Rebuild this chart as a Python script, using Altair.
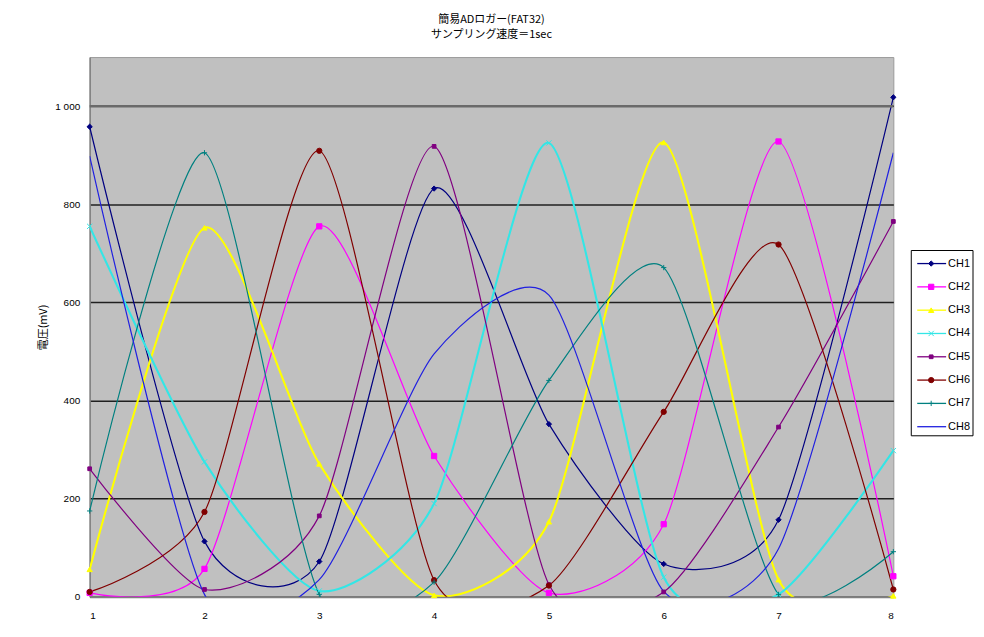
import altair as alt
import pandas as pd

# ---- data ----
x_vals = [1, 2, 3, 4, 5, 6, 7, 8]
channels = ["CH1", "CH2", "CH3", "CH4", "CH5", "CH6", "CH7", "CH8"]
ch1 = [958, 113, 72, 832, 352, 67, 157, 1018]
ch2 = [8, 57, 755, 287, 8, 148, 928, 42]
ch3 = [56, 752, 271, 3, 153, 926, 35, 2]
ch4 = [755, 275, 12, 190, 925, 40, 5, 298]
ch5 = [261, 15, 165, 918, 25, 10, 346, 765]
ch6 = [10, 173, 909, 34, 23, 377, 718, 15]
ch7 = [175, 905, 5, 30, 441, 671, 5, 92]
ch8 = [898, 5, 35, 495, 615, 11, 98, 905]
y_ticks = [0, 200, 400, 600, 800, 1000]

title_lines = ["簡易ADロガー(FAT32)", "サンプリング速度＝1sec"]
y_title = "電圧(mV)"

# ---- styles ----
colors = ["#000080", "#FF00FF", "#FFFF00", "#33E6E6", "#800080", "#800000", "#008080", "#2020E0"]
shapes = ["diamond", "square", "triangle-up", "M-1,-1L1,1M-1,1L1,-1", "square",
          "circle", "M-1,0L1,0M0,-1L0,1", "circle"]

series = [ch1, ch2, ch3, ch4, ch5, ch6, ch7, ch8]
rows = []
for name, vals in zip(channels, series):
    for xv, yv in zip(x_vals, vals):
        rows.append({"ch": name, "x": xv, "v": yv})
df = pd.DataFrame(rows)
leg = pd.DataFrame({"ch": channels, "idx": list(range(len(channels)))})

color_scale = alt.Scale(domain=channels, range=colors)
shape_scale = alt.Scale(domain=channels, range=shapes)
thick = "datum.ch === 'CH4' || datum.ch === 'CH3'"
small = "datum.ch === 'CH5'"

W, H = 807, 542
ydom = alt.Scale(domain=[0, 1100], nice=False)

xenc = alt.X("x:Q", scale=alt.Scale(domain=[1, 8], nice=False, zero=False),
             axis=alt.Axis(values=x_vals, title=None, grid=False, ticks=False,
                           labelFont="Liberation Sans", labelFontSize=10, labelColor="#000",
                           labelPadding=14, domainColor="#808080", domainWidth=2, format="d"))
yenc = alt.Y("v:Q", scale=ydom,
             axis=alt.Axis(values=y_ticks, title=y_title, titleFont="Noto Sans CJK JP",
                           titleFontSize=11, titleFontWeight="normal", titleColor="#000",
                           titlePadding=6, labelFont="Liberation Sans", labelFontSize=10,
                           labelColor="#000", labelPadding=10, ticks=False,
                           format=",d", labelExpr="replace(datum.label, ',', ' ')",
                           domainColor="#808080", domainWidth=1.5,
                           gridColor="#202020", gridWidth=1.5))

base = alt.Chart(df)
lines = base.mark_line(interpolate="cardinal", tension=0.3, clip=True).encode(
    x=xenc, y=yenc,
    color=alt.Color("ch:N", scale=color_scale, legend=None),
    strokeWidth=alt.condition(thick, alt.value(2.1), alt.value(1.2)),
    detail="ch:N",
)
top_grid = alt.Chart(pd.DataFrame({"g": [y_ticks[-1]]})).mark_rule(color="#6a6a6a", strokeWidth=2.5).encode(
    y=alt.Y("g:Q", scale=ydom, axis=None))
points = base.transform_filter("datum.ch !== 'CH8'").mark_point(filled=True, opacity=1, strokeWidth=1).encode(
    x=alt.X("x:Q"), y=alt.Y("v:Q", scale=ydom, axis=None),
    color=alt.Color("ch:N", scale=color_scale, legend=None),
    stroke=alt.Stroke("ch:N", scale=color_scale, legend=None),
    shape=alt.Shape("ch:N", scale=shape_scale, legend=None),
    size=alt.condition(small, alt.value(14), alt.value(28)),
)

# ---- custom legend (drawn to the right of the plot) ----
lscale = alt.Scale(domain=[-8.86, 14.30], reverse=True, nice=False, zero=False)
lbase = alt.Chart(leg)
l_box = lbase.transform_aggregate(lo="min(idx)", hi="max(idx)").transform_calculate(
    y0="datum.lo - 0.56", y1="datum.hi + 0.39").mark_rect(
    fill="white", stroke="#000", strokeWidth=1).encode(
    x=alt.value(825), x2=alt.value(887), y=alt.Y("y0:Q", scale=lscale, axis=None), y2="y1:Q")
l_rule = lbase.mark_rule(strokeWidth=1.3).encode(
    x=alt.value(831), x2=alt.value(860), y=alt.Y("idx:Q", scale=lscale, axis=None),
    color=alt.Color("ch:N", scale=color_scale, legend=None))
l_pts = lbase.transform_filter("datum.ch !== 'CH8'").mark_point(filled=True, opacity=1, strokeWidth=1).encode(
    x=alt.value(845), y=alt.Y("idx:Q", scale=lscale, axis=None),
    color=alt.Color("ch:N", scale=color_scale, legend=None),
    stroke=alt.Stroke("ch:N", scale=color_scale, legend=None),
    shape=alt.Shape("ch:N", scale=shape_scale, legend=None),
    size=alt.condition(small, alt.value(14), alt.value(28)))
l_text = lbase.mark_text(align="left", baseline="middle", font="Liberation Sans", fontSize=11, color="#000").encode(
    x=alt.value(862), y=alt.Y("idx:Q", scale=lscale, axis=None), text="ch:N")

chart = alt.layer(lines, top_grid, points, l_box, l_rule, l_pts, l_text).resolve_scale(
    y="independent").properties(
    width=W, height=H,
    title=alt.Title(title_lines, font="Noto Sans CJK JP", fontSize=11, fontWeight="normal",
                    color="#000", anchor="middle", offset=17, lineHeight=15),
    padding={"left": 29, "top": 5, "right": 2, "bottom": 2}, background="white",
).configure_view(fill="#C0C0C0", stroke="#999999", strokeWidth=1)

chart.save("out.html", embed_options={"renderer": "svg", "actions": False})
